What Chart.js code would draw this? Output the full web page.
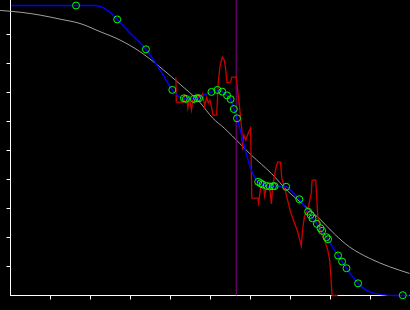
<!DOCTYPE html>
<html>
<head>
<meta charset="utf-8">
<script src="https://cdn.jsdelivr.net/npm/chart.js@4.4.1/dist/chart.umd.min.js"></script>
<style>
  html, body { margin: 0; padding: 0; background: #000; }
  #wrap { width: 410px; height: 310px; }
</style>
</head>
<body>
<div id="wrap"><canvas id="chart"></canvas></div>
<script>
// tick positions on both axes (no labels shown)
var tickValues = [1, 2, 3, 4, 5, 6, 7, 8, 9];

// gray reference curve
var grayX = [-0.26, 0.24, 0.74, 1.24, 1.74, 2.24, 2.74, 3.24, 3.74, 4.24, 4.74, 5.06, 5.36, 5.74, 6.03, 6.53, 6.94, 7.36, 7.74, 8.11, 8.49, 8.99, 9.49, 9.99];
var grayY = [9.83, 9.77, 9.67, 9.53, 9.38, 9.10, 8.81, 8.41, 7.88, 7.29, 6.66, 6.12, 5.76, 5.24, 4.84, 4.21, 3.60, 3.10, 2.64, 2.12, 1.67, 1.28, 0.99, 0.76];

// blue fitted curve
var blueX = [0.01, 1.64, 2.14, 2.34, 2.51, 2.67, 2.99, 3.39, 3.74, 4.05, 4.19, 4.34, 4.49, 4.66, 4.84, 5.03, 5.18, 5.30, 5.42, 5.51, 5.59, 5.67, 5.79, 5.91, 6.06, 6.20, 6.34, 6.49, 6.61, 6.76, 6.90, 7.06, 7.23, 7.45, 7.56, 7.67, 7.80, 7.93, 8.06, 8.20, 8.30, 8.41, 8.54, 8.70, 8.86, 9.04, 9.29, 9.61, 9.99];
var blueY = [10.00, 10.00, 10.00, 9.91, 9.74, 9.52, 9.05, 8.49, 7.78, 7.09, 6.88, 6.80, 6.78, 6.79, 6.91, 7.02, 7.09, 7.03, 6.90, 6.77, 6.43, 6.11, 5.50, 4.84, 4.22, 3.92, 3.81, 3.76, 3.77, 3.76, 3.75, 3.57, 3.32, 2.89, 2.67, 2.47, 2.23, 1.97, 1.67, 1.38, 1.17, 0.94, 0.69, 0.42, 0.22, 0.10, 0.03, 0.00, 0.00];

// green sample points
var circleX = [1.64, 2.67, 3.39, 4.05, 4.34, 4.39, 4.59, 4.67, 4.72, 5.03, 5.18, 5.30, 5.42, 5.51, 5.59, 5.67, 6.20, 6.26, 6.31, 6.41, 6.49, 6.57, 6.61, 6.90, 7.23, 7.45, 7.51, 7.56, 7.67, 7.76, 7.80, 7.91, 7.95, 8.20, 8.30, 8.41, 8.70, 9.82];
var circleY = [10.00, 9.52, 8.49, 7.09, 6.80, 6.78, 6.78, 6.80, 6.80, 7.02, 7.09, 7.03, 6.90, 6.77, 6.43, 6.11, 3.92, 3.87, 3.83, 3.78, 3.76, 3.77, 3.77, 3.75, 3.32, 2.89, 2.78, 2.66, 2.47, 2.32, 2.23, 2.01, 1.94, 1.38, 1.17, 0.94, 0.42, 0.01];

// red raw signal
var redX = [4.14, 4.15, 4.34, 4.36, 4.41, 4.44, 4.48, 4.53, 4.56, 4.60, 4.64, 4.68, 4.71, 4.76, 4.81, 4.86, 4.91, 4.95, 4.99, 5.03, 5.07, 5.16, 5.20, 5.24, 5.30, 5.35, 5.38, 5.42, 5.51, 5.54, 5.65, 5.68, 5.74, 5.79, 5.81, 5.84, 5.89, 5.96, 6.01, 6.04, 6.19, 6.21, 6.26, 6.34, 6.36, 6.41, 6.49, 6.53, 6.56, 6.61, 6.66, 6.69, 6.76, 6.79, 6.86, 7.01, 7.19, 7.28, 7.31, 7.36, 7.44, 7.53, 7.55, 7.64, 7.66, 7.69, 7.78, 7.86, 7.94, 7.99, 8.03, 8.05, 8.19];
var redY = [7.53, 6.67, 6.67, 6.91, 6.84, 6.47, 6.81, 6.40, 6.71, 6.64, 6.91, 6.74, 6.91, 6.81, 6.95, 6.53, 6.84, 6.64, 6.74, 6.50, 6.22, 6.22, 7.33, 7.88, 8.22, 8.12, 7.88, 7.33, 7.36, 7.53, 7.53, 7.16, 6.40, 5.71, 5.02, 5.53, 5.36, 5.64, 5.78, 3.36, 3.36, 3.19, 3.71, 3.71, 3.43, 3.78, 3.71, 3.16, 3.71, 4.16, 4.50, 4.60, 4.60, 4.05, 3.71, 2.88, 2.19, 1.71, 2.26, 2.74, 2.95, 3.53, 3.98, 3.98, 3.53, 2.74, 2.16, 1.91, 1.57, 1.22, 0.43, 0.00, 0.00];

// purple marker line
var markerX = 5.65;
var yTop = 10.19;

function zip(xs, ys) {
  return xs.map(function (x, i) { return { x: x, y: ys[i] }; });
}

var setTicks = function (scale) {
  scale.ticks = tickValues.map(function (v) { return { value: v }; });
};

var axis = function (max) {
  return {
    type: 'linear',
    min: 0,
    max: max,
    afterBuildTicks: setTicks,
    ticks: { display: false },
    grid: {
      drawOnChartArea: false,
      drawTicks: true,
      tickLength: 4,
      tickWidth: 1,
      color: '#ffffff'
    },
    border: { display: true, color: '#ffffff', width: 1 }
  };
};

new Chart(document.getElementById('chart'), {
  type: 'scatter',
  data: {
    datasets: [
      {
        data: zip(circleX, circleY),
        showLine: false,
        pointRadius: 3.5,
        pointBorderWidth: 1,
        pointBorderColor: '#00ff00',
        pointBackgroundColor: 'rgba(0,0,0,0)',
        clip: false,
        order: 1
      },
      {
        data: zip(blueX, blueY),
        showLine: true,
        borderColor: '#0000ff',
        borderWidth: 1.4,
        pointRadius: 0,
        cubicInterpolationMode: 'monotone',
        clip: false,
        order: 2
      },
      {
        data: zip(redX, redY),
        showLine: true,
        borderColor: '#cc0000',
        borderWidth: 1.3,
        pointRadius: 0,
        clip: false,
        order: 3
      },
      {
        data: [{ x: markerX, y: 0 }, { x: markerX, y: yTop }],
        showLine: true,
        borderColor: '#880088',
        borderWidth: 1,
        pointRadius: 0,
        clip: false,
        order: 4
      },
      {
        data: zip(grayX, grayY),
        showLine: true,
        borderColor: '#a0a0a0',
        borderWidth: 1,
        pointRadius: 0,
        cubicInterpolationMode: 'monotone',
        clip: false,
        order: 5
      }
    ]
  },
  options: {
    responsive: true,
    maintainAspectRatio: false,
    animation: false,
    layout: { autoPadding: false, padding: { left: 6.5, right: 0, top: 0, bottom: 10.5 } },
    plugins: {
      legend: { display: false },
      tooltip: { enabled: false }
    },
    scales: {
      x: axis(10),
      y: axis(yTop)
    }
  }
});
</script>
</body>
</html>
